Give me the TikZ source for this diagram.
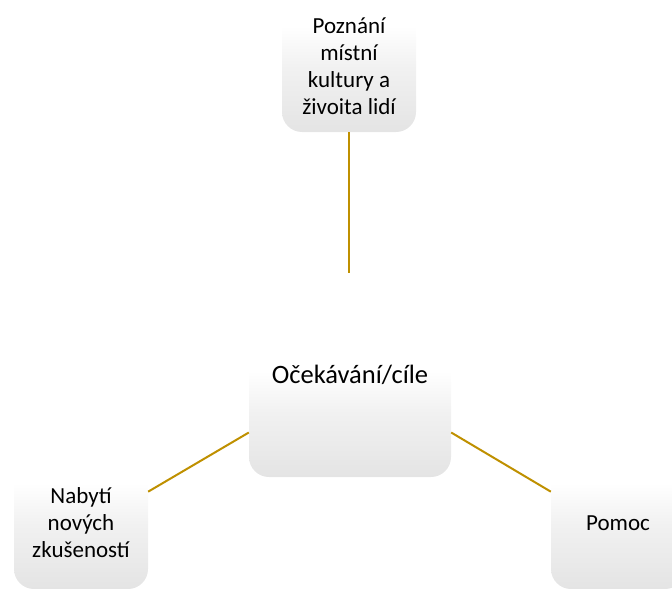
\documentclass[tikz,border=0pt]{standalone}
\usepackage{fontspec}
\setmainfont{Carlito}
\definecolor{linegold}{RGB}{191,144,0}
\definecolor{boxgray}{RGB}{228,228,228}
\pgfdeclareverticalshading{boxshade}{100bp}{color(0bp)=(boxgray); color(25bp)=(boxgray); color(50bp)=(white!50!boxgray); color(65bp)=(white); color(100bp)=(white)}
\tikzset{
  softbox/.style={rectangle, rounded corners=20pt, shading=boxshade, draw=none, inner sep=0pt, align=center},
  outerbox/.style={softbox, minimum width=134pt, minimum height=132pt, font=\fontsize{23}{27}\selectfont},
  link/.style={draw=linegold, line width=2pt}
}
\begin{document}
\begin{tikzpicture}[x=1pt,y=-1pt]
\useasboundingbox (0,0) rectangle (672,589);
\clip (0,0) rectangle (672,589);
\node[outerbox] (top) at (349,66) {Poznání\\místní\\kultury a\\živoita lidí};
\node[softbox, minimum width=202pt, minimum height=132pt] (center) at (350,411) {};
\node[font=\fontsize{26.5}{30}\selectfont, inner sep=0pt] (ctext) at (350,375) {Očekávání/cíle};
\node[outerbox] (left) at (81,523) {Nabytí\\nových\\zkušeností};
\node[outerbox] (right) at (618,523) {Pomoc};
\coordinate (topend) at (349,273);
\draw[link] (top.south) -- (topend);
\draw[link] (center.192) -- (left.25);
\draw[link] (center.-12) -- (right.155);
\end{tikzpicture}
\end{document}
